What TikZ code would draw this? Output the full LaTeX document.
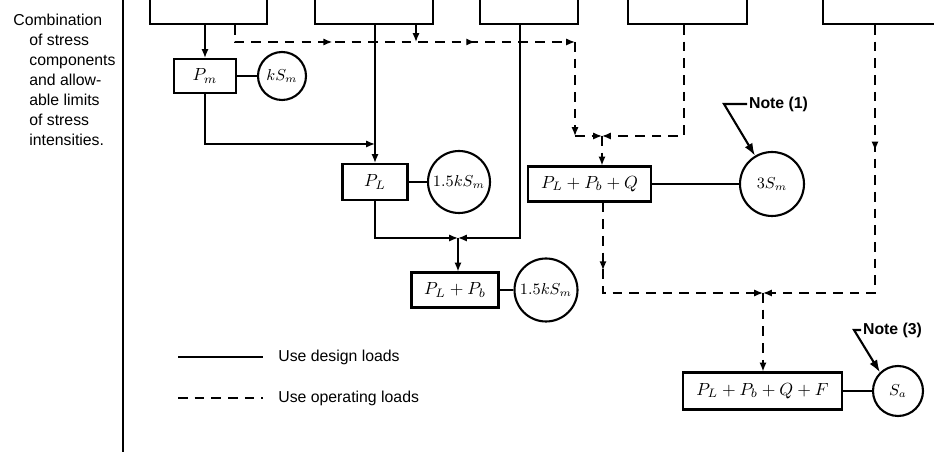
\documentclass[tikz,border=0pt]{standalone}
\usepackage{amsmath}
\usepackage{fontspec}
\setmainfont{Liberation Sans}
\usetikzlibrary{arrows.meta, positioning, decorations.markings}

\begin{document}
\begin{tikzpicture}[x=0.02cm, y=-0.02cm, >={Latex[length=5pt,width=4pt]}]
\tikzstyle{box}=[draw, very thick, rectangle, inner sep=2pt, font=\normalsize]
\tikzstyle{limit}=[draw, very thick, circle, inner sep=0pt, font=\small]
\tikzstyle{design}=[thick]
\tikzstyle{oper}=[thick, dash pattern=on 5.5pt off 4pt]
\tikzstyle{notetext}=[anchor=west, inner sep=1pt, font=\bfseries\fontsize{9}{11}\selectfont]
\tikzstyle{notearrow}=[very thick, -{Latex[length=7pt,width=5pt]}]
\tikzstyle{legendtext}=[anchor=west, inner sep=0pt, font=\fontsize{9}{11}\selectfont]
\tikzset{midarrow/.style={postaction={decorate,
  decoration={markings, mark=at position #1 with {\arrow{>}}}}}}

\useasboundingbox (0,0) rectangle (934,452);
\clip (0,0) rectangle (934,452);

% caption and rule
\node[anchor=north west, align=left, inner sep=0pt,
  font=\fontsize{9}{11.4}\selectfont] (caption) at (13,14)
  {Combination\\\hspace*{0.32cm}of stress\\\hspace*{0.32cm}components\\
   \hspace*{0.32cm}and allow-\\\hspace*{0.32cm}able limits\\
   \hspace*{0.32cm}of stress\\\hspace*{0.32cm}intensities.};
\draw[very thick] (123,0) -- (123,452);

% load boxes (cut at the top)
\node[box, minimum width=2.34cm, minimum height=1.28cm] (load1) at (208.5,-8) {};
\node[box, minimum width=2.36cm, minimum height=1.28cm] (load2) at (374,-8) {};
\node[box, minimum width=1.96cm, minimum height=1.28cm] (load3) at (529,-8) {};
\node[box, minimum width=2.38cm, minimum height=1.28cm] (load4) at (687.5,-8) {};
\node[box, minimum width=2.74cm, minimum height=1.28cm] (load5) at (891.5,-8) {};

% stress intensities and limits
\node[box, minimum width=1.24cm, minimum height=0.68cm] (pm) at (205,76) {$P_m$};
\node[limit, minimum size=0.96cm] (ksm) at (282,76) {$kS_m$};
\node[box, minimum width=1.3cm, minimum height=0.72cm] (pl) at (375,182) {$P_L$};
\node[limit, minimum size=1.24cm] (lsm1) at (459,182) {$1.5kS_m$};
\node[box, minimum width=1.74cm, minimum height=0.7cm] (plpb) at (455,290) {$P_L + P_b$};
\node[limit, minimum size=1.26cm] (lsm2) at (546,290) {$1.5kS_m$};
\node[box, minimum width=2.46cm, minimum height=0.7cm] (pq) at (589.5,184) {$P_L + P_b + Q$};
\node[limit, minimum size=1.28cm] (sm3) at (772,184) {$3S_m$};
\node[box, minimum width=3.18cm, minimum height=0.74cm] (pqf) at (762.5,391) {$P_L + P_b + Q + F$};
\node[limit, minimum size=1cm] (sa) at (898,391) {$S_a$};

\node[notetext] (note1) at (747,104) {Note (1)};
\node[notetext] (note3) at (861,330) {Note (3)};

% junctions
\coordinate (j1) at (375,144);
\coordinate (j2) at (458,238);
\coordinate (j3) at (602,136);
\coordinate (j4) at (763,293);
\coordinate (t1) at (235,42);
\coordinate (t2) at (416,42);
\coordinate (t3) at (520,238);
\coordinate (t4) at (684,136);
\coordinate (t5) at (603,293);
\coordinate (t6) at (875,293);
\coordinate (c1) at (575,42);
\coordinate (c2) at (575,136);

% design loads
\draw[design,->] (load1.south -| pm) -- (pm);
\draw[design] (pm) -- (ksm);
\draw[design,->] (pm) |- (j1);
\draw[design,->] (load2.south -| pl) -- (pl);
\draw[design] (pl) -- (lsm1);
\draw[design,->] (pl) |- (j2);
\draw[design,->] (load3.south -| t3) -- (t3) -- (j2);
\draw[design,->] (j2) -- (plpb.north -| j2);
\draw[design] (plpb) -- (lsm2);
\draw[design] (pq) -- (sm3);
\draw[design] (pqf) -- (sa);

% operating loads
\draw[oper,->,midarrow=0.32,midarrow=0.72] (load1.south -| t1) -- (t1) -- (c1);
\draw[oper,->] (load2.south -| t2) -- (t2);
\draw[oper,->] (c1) -- (c2);
\draw[oper,->] (c2) -- (j3);
\draw[oper,->] (load4.south -| t4) -- (t4) -- (j3);
\draw[oper,->] (j3) -- (pq.north -| j3);
\draw[oper,->,midarrow=0.27] (pq.south -| t5) -- (t5) -- (j4);
\draw[oper,->,midarrow=0.33] (load5.south -| t6) -- (t6) -- (j4);
\draw[oper,->] (j4) -- (pqf.north -| j4);

% notes
\draw[notearrow] (note1.west) -- ++(-23,0) -- (sm3.121);
\draw[notearrow] (note3.west) -- ++(-7,0) -- (sa.134);

% legend
\node[legendtext] (usedesign) at (278,357) {Use design loads};
\node[legendtext] (useoper) at (278,398) {Use operating loads};
\draw[design] ([xshift=-2cm]usedesign.west) -- ([xshift=-0.3cm]usedesign.west);
\draw[oper] ([xshift=-2cm]useoper.west) -- ([xshift=-0.3cm]useoper.west);

\end{tikzpicture}
\end{document}
